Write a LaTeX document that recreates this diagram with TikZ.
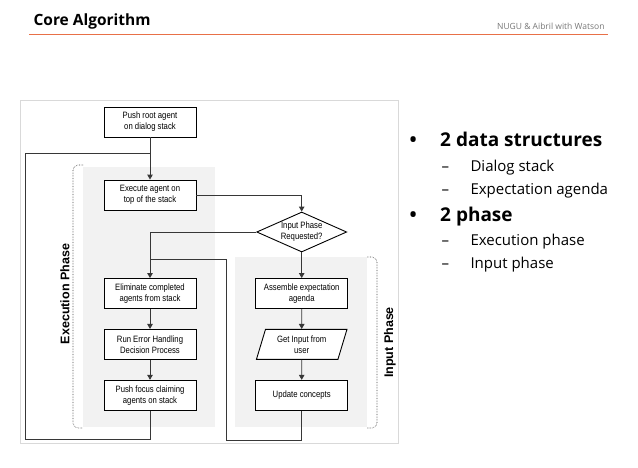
\documentclass[tikz,border=0pt]{standalone}
\usepackage{fontspec}
\setmainfont{Open Sans}
\newfontfamily\chartfont{Liberation Sans}[FakeStretch=0.84]
\newfontfamily\phasefont{Liberation Sans}
\usetikzlibrary{positioning}
\usetikzlibrary{shapes.geometric, arrows.meta}

\definecolor{rulered}{RGB}{232,112,72}
\definecolor{phasegray}{RGB}{242,242,242}
\definecolor{flowline}{RGB}{55,55,55}
\definecolor{headgray}{RGB}{120,120,120}

\tikzset{
  stepbox/.style={draw=black,line width=0.9pt,fill=white,minimum width=92pt,minimum height=30pt,inner sep=1pt,align=center,font=\chartfont\fontsize{9.2}{11}\selectfont},
  askbox/.style={diamond,draw=black,line width=0.9pt,fill=white,aspect=2.25,inner sep=-1.5pt,minimum width=90pt,minimum height=40pt,align=center,font=\chartfont\fontsize{9.2}{11}\selectfont},
  iobox/.style={trapezium,trapezium left angle=72,trapezium right angle=108,trapezium stretches=true,draw=black,line width=0.9pt,fill=white,minimum width=91pt,minimum height=30pt,inner sep=1pt,align=center,font=\chartfont\fontsize{9.2}{11}\selectfont},
  flow/.style={draw=flowline,line width=0.9pt},
  flowarrow/.style={flow,-{Triangle[length=5pt,width=5.5pt]}},
  phasebracket/.style={draw=black!70,densely dotted,line width=0.6pt,rounded corners=5pt},
  phaselabel/.style={rotate=90,font=\phasefont\bfseries\fontsize{12.5}{14}\selectfont},
  bigitem/.style={anchor=base west,font=\bfseries\fontsize{19}{22}\selectfont},
  smallitem/.style={anchor=base west,font=\fontsize{15}{18}\selectfont}
}

\begin{document}
\begin{tikzpicture}[x=1pt,y=-1pt]
\useasboundingbox[fill=white] (0,0) rectangle (638,467);

% header
\node[anchor=base west,font=\bfseries\fontsize{15.5}{18}\selectfont] (title) at (30,25) {Core Algorithm};
\node[anchor=base east,text=headgray,font=\fontsize{8.5}{10}\selectfont] (brand) at (608,29) {NUGU \& Aibril with Watson};
\draw[rulered,line width=1.2pt] (29,34.3) -- (608,34.3);

% panel and phase areas
\draw[draw=black!15,fill=white] (20,100) rectangle (398,443);
\fill[phasegray] (83,167) rectangle (215,427);
\fill[phasegray] (235,257) rectangle (367,427);
\draw[phasebracket] (83,165) -- (73,165) -- (73,428) -- (83,428);
\draw[phasebracket] (367,257) -- (377,257) -- (377,428) -- (367,428);
\node[phaselabel] (execphase) at (65,294) {Execution Phase};
\node[phaselabel] (inphase) at (390,342.5) {Input Phase};

% flow nodes
\node[stepbox] (push) at (150,122) {Push root agent\\on dialog stack};
\node[stepbox] (exec) at (150,195) {Execute agent on\\top of the stack};
\node[askbox] (ask) at (301.7,232) {Input Phase\\Requested?};
\node[stepbox] (elim) at (150,293.5) {Eliminate completed\\agents from stack};
\node[stepbox,below=20pt of elim] (err) {Run Error Handling\\Decision Process};
\node[stepbox,below=20pt of err] (focus) {Push focus claiming\\agents on stack};
\node[stepbox] (assem) at (301.7,293.5) {Assemble expectation\\agenda};
\node[iobox,below=20pt of assem] (getin) {Get Input from\\user};
\node[stepbox,below=20pt of getin] (update) {Update concepts};

\coordinate (execjoin) at (150,153);
\coordinate (inret) at (226,259);

% connectors
\draw[flowarrow] (push) -- (exec);
\draw[flowarrow] (exec.east) -| (ask.north);
\draw[flowarrow] (ask.west) -| (elim.north);
\draw[flowarrow] (ask) -- (assem);
\draw[flowarrow] (elim) -- (err);
\draw[flowarrow] (err) -- (focus);
\draw[flowarrow] (assem) -- (getin);
\draw[flowarrow] (getin) -- (update);
\draw[flow] (focus.south) -- ++(0,29) -| (25,153) -- (execjoin);
\draw[flow] (update.south) -- ++(0,30) -| (inret) -- (inret -| elim.north);

% bullets
\node[bigitem] (b1) at (406,146.7) {\textbullet};
\node[bigitem] (ds) at (436.7,146.7) {2 data structures};
\node[smallitem] (d1) at (438,171.7) {--};
\node[smallitem] (dstack) at (467,171.7) {Dialog stack};
\node[smallitem] (d2) at (438,194.5) {--};
\node[smallitem] (dagenda) at (467,194.5) {Expectation agenda};
\node[bigitem] (b2) at (406,221.7) {\textbullet};
\node[bigitem] (ph) at (436.7,221.7) {2 phase};
\node[smallitem] (d3) at (438,245) {--};
\node[smallitem] (pexec) at (467,245) {Execution phase};
\node[smallitem] (d4) at (438,268.3) {--};
\node[smallitem] (pin) at (467,268.3) {Input phase};
\end{tikzpicture}
\end{document}
